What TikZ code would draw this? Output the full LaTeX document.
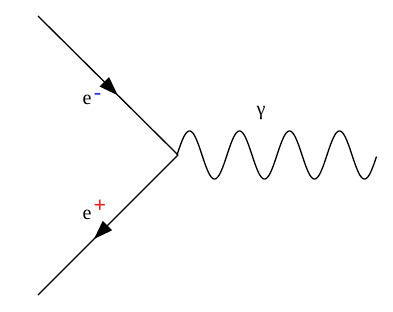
\documentclass[tikz,border=0pt]{standalone}
\usepackage{fontspec}
\setmainfont{Liberation Serif}
\usetikzlibrary{arrows.meta,decorations.markings}
\definecolor{eblue}{RGB}{40,60,230}
\definecolor{ered}{RGB}{240,30,30}
\newcommand{\lblfont}{\fontsize{20}{20}\selectfont}
\newcommand{\sgnfont}{\fontsize{22}{22}\selectfont\bfseries}
\tikzset{
  fermion/.style={line width=1.3pt, postaction={decorate},
    decoration={markings, mark=at position #1 with {\arrow{Triangle[length=19pt,width=13pt]}}}},
  lbl/.style={inner sep=0pt, font=\lblfont},
  sgn/.style={inner sep=0pt, font=\sgnfont}
}
\begin{document}
\begin{tikzpicture}[x=1pt,y=-1pt]
\useasboundingbox (0,0) rectangle (393,312);
\coordinate (a) at (38,16);
\coordinate (v) at (178,155);
\coordinate (b) at (38,295);
\draw[fermion=0.57] (a) -- (v);
\draw[fermion=0.6] (v) -- (b);
\draw[line width=1.3pt] (v) -- (177,155) plot[domain=0:199.5, samples=300, smooth] ({177+\x},{155-24*sin(7.2*\x)});
\node[lbl] (em) at (87,100) {e};
\node[sgn, text=eblue] (mi) at (97.5,96) {-};
\node[lbl] (ep) at (87,215) {e};
\node[sgn, text=ered] (pl) at (100,206) {+};
\node[lbl] (g) at (261,113) {γ};
\end{tikzpicture}
\end{document}
